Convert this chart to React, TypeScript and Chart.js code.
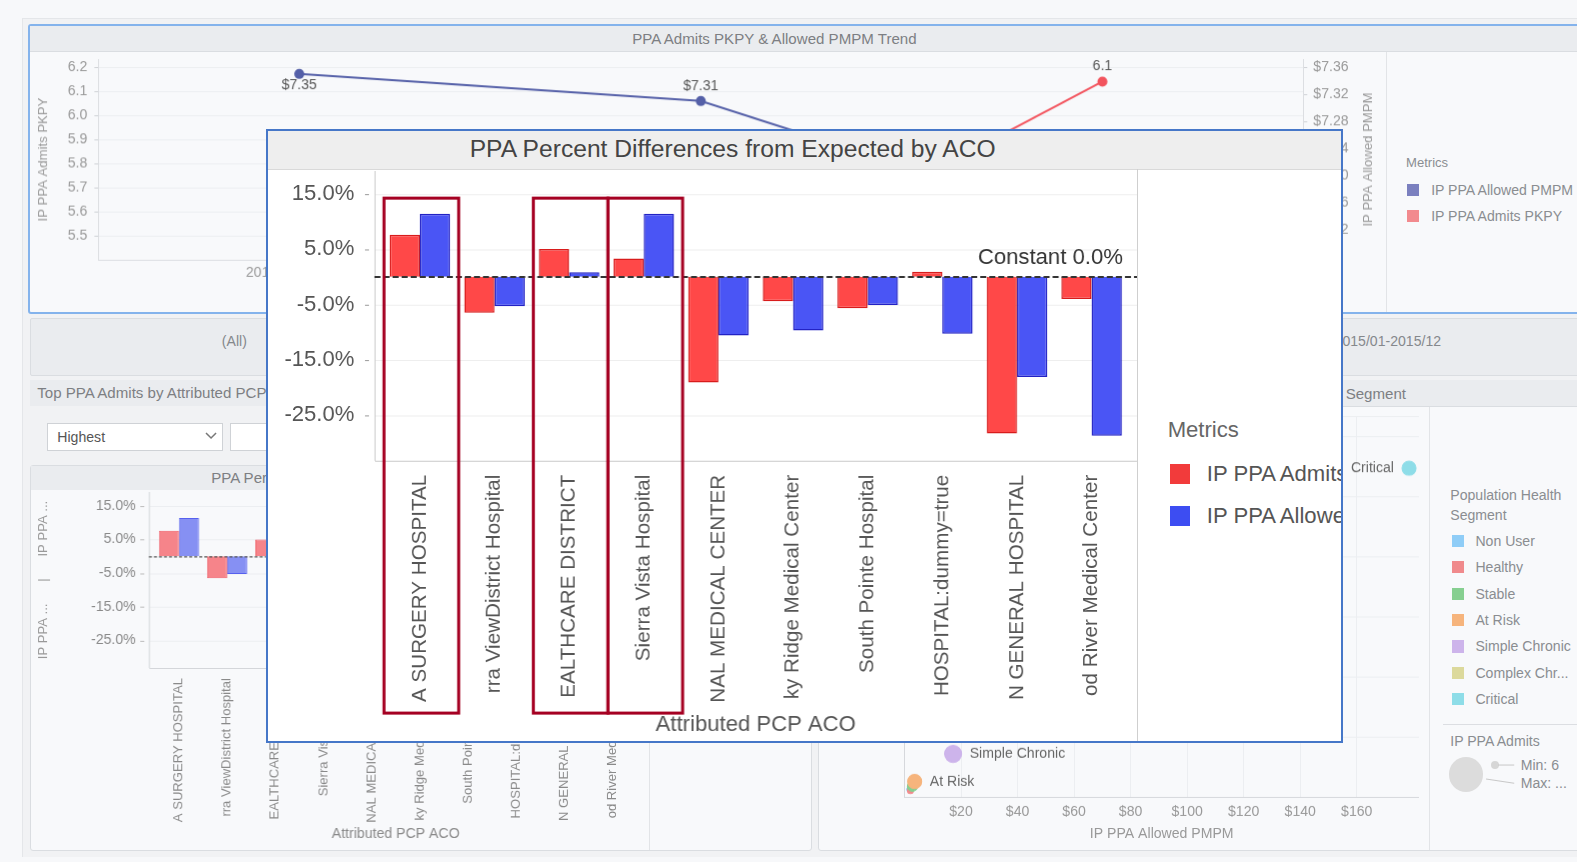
import React, { useEffect, useRef } from "react";
import { Chart, registerables } from "chart.js";

Chart.register(...registerables);
const FONT = "'Liberation Sans', Arial, Helvetica, sans-serif";
Chart.defaults.font.family = FONT;
const K = 1577 / 1568;

// ---------- PPA percent differences by ACO ----------
const acoLabels = [
  "A SURGERY HOSPITAL",
  "rra ViewDistrict Hospital",
  "EALTHCARE DISTRICT",
  "Sierra Vista Hospital",
  "NAL MEDICAL CENTER",
  "ky Ridge Medical Center",
  "South Pointe Hospital",
  "HOSPITAL:dummy=true",
  "N GENERAL HOSPITAL",
  "od River Medical Center",
];
const admitsPctDiff = [7.6, -6.5, 5.0, 3.3, -19.1, -4.4, -5.7, 0.9, -28.3, -4.0];
const allowedPctDiff = [11.4, -5.3, 0.8, 11.4, -10.6, -9.7, -5.1, -10.3, -18.1, -28.7];
const pctTicks = [15, 5, -5, -15, -25];
const pctMin = -33.2;
const pctMax = 19.1;
const highlightedAco = [0, 2, 3];
const constantLine = 0;

// ---------- trend ----------
const trendPeriods = ["2013/01-2013/12", "2014/01-2014/12", "2015/01-2015/12"];
const admitsPkpy = [5.6, 5.26, 6.14];
const allowedPmpm = [7.35, 7.31, 7.12];
const admitsTicks = [6.2, 6.1, 6.0, 5.9, 5.8, 5.7, 5.6, 5.5];
const pmpmTicks = [7.36, 7.32, 7.28, 7.24, 7.2, 7.16, 7.12];

// ---------- population health segments ----------
const segmentNames = ["Non User", "Healthy", "Stable", "At Risk", "Simple Chronic", "Complex Chronic", "Critical"];
const segmentLegendNames = ["Non User", "Healthy", "Stable", "At Risk", "Simple Chronic", "Complex Chr...", "Critical"];
const segmentColors = ["#8fcdf7", "#f08a8c", "#86cf90", "#f6b47c", "#cdb4eb", "#dcd99c", "#8edde8"];
const segmentAllowed = [1.5, 2.1, 2.8, 3.6, 17.2, 62, 178.5];
const segmentScore = [1.3, 1.1, 1.8, 2.6, 7.2, 30, 54.8];
const segmentAdmitsSize = [2, 3, 5, 7, 8.5, 8, 7];
const segmentLabelled = [false, false, false, true, true, true, true];
const scatterTicks = [20, 40, 60, 80, 100, 120, 140, 160];

const pctLabel = (v: number) => v.toFixed(1) + "%";

const noPadY = (w: number) => (s: any) => {
  s.width = w;
  s.paddingTop = 0;
  s.paddingBottom = 0;
};
const noPadX = (h: number) => (s: any) => {
  s.height = h;
  s.paddingLeft = 0;
  s.paddingRight = 0;
};

function pctDecor(cfg: any) {
  return {
    id: "pctDecor",
    beforeDatasetsDraw(chart: any) {
      const { ctx, chartArea: a, scales } = chart;
      const y = scales.y;
      const L = Math.round(a.left - cfg.ext) + 0.5;
      const R = a.right + cfg.ext;
      ctx.save();
      ctx.lineWidth = 1;
      pctTicks.forEach((v) => {
        const py = Math.round(y.getPixelForValue(v)) + 0.5;
        ctx.strokeStyle = cfg.gridColor;
        ctx.beginPath();
        ctx.moveTo(L, py);
        ctx.lineTo(R, py);
        ctx.stroke();
        ctx.strokeStyle = cfg.tickColor;
        ctx.beginPath();
        ctx.moveTo(L - cfg.tickOut, py);
        ctx.lineTo(L - cfg.tickOut + cfg.tickLen, py);
        ctx.stroke();
      });
      ctx.strokeStyle = cfg.axisColor;
      ctx.beginPath();
      ctx.moveTo(L, a.top);
      ctx.lineTo(L, a.bottom);
      const by = Math.round(a.bottom) + 0.5;
      ctx.moveTo(L, by);
      ctx.lineTo(R, by);
      ctx.stroke();
      ctx.restore();
    },
    afterDatasetsDraw(chart: any) {
      const { ctx, chartArea: a, scales } = chart;
      const y = scales.y;
      const x = scales.x;
      const L = a.left - cfg.ext;
      const R = a.right + cfg.ext;
      const y0 = Math.round(y.getPixelForValue(constantLine)) + 0.5;
      ctx.save();
      ctx.setLineDash(cfg.zeroDash);
      ctx.lineWidth = cfg.zeroWidth;
      ctx.strokeStyle = cfg.zeroColor;
      ctx.beginPath();
      ctx.moveTo(L, y0);
      ctx.lineTo(R, y0);
      ctx.stroke();
      ctx.setLineDash([]);
      if (cfg.constantFont) {
        ctx.font = cfg.constantFont;
        ctx.fillStyle = "#333";
        ctx.textAlign = "right";
        ctx.textBaseline = "middle";
        ctx.fillText("Constant " + pctLabel(constantLine), a.right - 6, y0 - 19);
      }
      if (cfg.boxes) {
        const w = x.getPixelForValue(1) - x.getPixelForValue(0);
        ctx.strokeStyle = "#a50022";
        ctx.lineWidth = 3;
        highlightedAco.forEach((i) => {
          const cx = x.getPixelForValue(i);
          const top = y.getPixelForValue(cfg.boxTop);
          ctx.strokeRect(cx - w / 2 + 1.5, top, w, a.bottom + cfg.boxBelow - top);
        });
      }
      ctx.restore();
    },
  };
}

function mainConfig(): any {
  return {
    type: "bar",
    data: {
      labels: acoLabels,
      datasets: [
        {
          label: "IP PPA Admits PKPY",
          data: admitsPctDiff,
          backgroundColor: "#ff4848",
          borderColor: "#d81c1c",
          borderWidth: 1.5,
          categoryPercentage: 0.81,
          barPercentage: 1,
        },
        {
          label: "IP PPA Allowed PMPM",
          data: allowedPctDiff,
          backgroundColor: "#4a55f5",
          borderColor: "#2222c4",
          borderWidth: 1.5,
          categoryPercentage: 0.81,
          barPercentage: 1,
        },
      ],
    },
    options: {
      responsive: false,
      animation: false,
      devicePixelRatio: K,
      layout: { padding: { top: 2, right: 8, left: 0, bottom: 0 } },
      plugins: { legend: { display: false }, tooltip: { enabled: false } },
      scales: {
        x: {
          grid: { display: false, drawTicks: false },
          border: { display: false },
          ticks: { minRotation: 90, maxRotation: 90, autoSkip: false, padding: 14, color: "#555", font: { size: 20.5 } },
          title: { display: true, text: "Attributed PCP ACO", color: "#555", font: { size: 22 }, padding: { top: 0, bottom: 2 } },
          afterFit: noPadX(278),
        },
        y: {
          min: pctMin,
          max: pctMax,
          afterBuildTicks: (s: any) => {
            s.ticks = pctTicks.map((v) => ({ value: v }));
          },
          grid: { display: false, drawTicks: false },
          border: { display: false },
          ticks: { padding: 28, color: "#555", font: { size: 22 }, callback: (v: any) => pctLabel(Number(v)) },
          afterFit: noPadY(114),
        },
      },
    },
    plugins: [
      pctDecor({
        ext: 8,
        tickOut: 10,
        tickLen: 4,
        gridColor: "#eeeeee",
        tickColor: "#999",
        axisColor: "#c9c9c9",
        zeroColor: "#333",
        zeroWidth: 2,
        zeroDash: [6, 3],
        constantFont: `22px ${FONT}`,
        boxes: true,
        boxTop: 14.2,
        boxBelow: 251,
      }),
    ],
  };
}

function smallConfig(): any {
  return {
    type: "bar",
    data: {
      labels: acoLabels,
      datasets: [
        {
          data: admitsPctDiff,
          backgroundColor: "#f6848a",
          borderColor: "#ef5a63",
          borderWidth: 1,
          categoryPercentage: 0.83,
          barPercentage: 1,
        },
        {
          data: allowedPctDiff,
          backgroundColor: "#8690f3",
          borderColor: "#5660ee",
          borderWidth: 1,
          categoryPercentage: 0.83,
          barPercentage: 1,
        },
      ],
    },
    options: {
      responsive: false,
      animation: false,
      devicePixelRatio: K,
      layout: { padding: { top: 2, right: 13, left: 0, bottom: 0 } },
      plugins: { legend: { display: false }, tooltip: { enabled: false } },
      scales: {
        x: {
          grid: { display: false, drawTicks: false },
          border: { display: false },
          ticks: { minRotation: 90, maxRotation: 90, autoSkip: false, padding: 10, color: "#8a8a8a", font: { size: 13 } },
          title: { display: true, text: "Attributed PCP ACO", color: "#8a8a8a", font: { size: 14 }, padding: { top: 0, bottom: 7 } },
          afterFit: noPadX(181),
        },
        y: {
          min: pctMin,
          max: pctMax,
          afterBuildTicks: (s: any) => {
            s.ticks = pctTicks.map((v) => ({ value: v }));
          },
          grid: { display: false, drawTicks: false },
          border: { display: false },
          ticks: { padding: 19, color: "#8a8a8a", font: { size: 14 }, callback: (v: any) => pctLabel(Number(v)) },
          title: {
            display: true,
            text: "IP PPA ...      |      IP PPA ...",
            color: "#999",
            font: { size: 13 },
            padding: { top: 6, bottom: 0 },
          },
          afterFit: noPadY(124),
        },
      },
    },
    plugins: [
      pctDecor({
        ext: 6,
        tickOut: 9,
        tickLen: 4,
        gridColor: "#eceef1",
        tickColor: "#bbb",
        axisColor: "#d4d6da",
        zeroColor: "#555",
        zeroWidth: 1.2,
        zeroDash: [3, 2],
      }),
    ],
  };
}

const trendDecor = {
  id: "trendDecor",
  afterDatasetsDraw(chart: any) {
    const { ctx, chartArea: a } = chart;
    ctx.save();
    ctx.font = `14px ${FONT}`;
    ctx.fillStyle = "#555";
    ctx.textAlign = "center";
    ctx.textBaseline = "middle";
    chart.data.datasets.forEach((ds: any, di: number) => {
      const meta = chart.getDatasetMeta(di);
      meta.data.forEach((pt: any, i: number) => {
        const v = ds.data[i];
        const below = di === 0 && i === 0;
        const txt = di === 0 ? "$" + v.toFixed(2) : v.toFixed(1);
        ctx.fillText(txt, pt.x, pt.y + (below ? 11 : -15));
      });
    });
    ctx.font = `13px ${FONT}`;
    ctx.fillStyle = "#9a9a9a";
    ctx.translate(chart.width - 18, (a.top + a.bottom) / 2);
    ctx.rotate(-Math.PI / 2);
    ctx.fillText("IP PPA Allowed PMPM", 0, 0);
    ctx.restore();
  },
};

function trendConfig(): any {
  return {
    type: "line",
    data: {
      labels: trendPeriods,
      datasets: [
        {
          label: "IP PPA Allowed PMPM",
          data: allowedPmpm,
          yAxisID: "y1",
          borderColor: "#5560a8",
          backgroundColor: "#5560a8",
          borderWidth: 2,
          pointRadius: 4,
          tension: 0,
        },
        {
          label: "IP PPA Admits PKPY",
          data: admitsPkpy,
          yAxisID: "y",
          borderColor: "#f2545e",
          backgroundColor: "#f2545e",
          borderWidth: 2,
          pointRadius: 4,
          tension: 0,
        },
      ],
    },
    options: {
      responsive: false,
      animation: false,
      devicePixelRatio: K,
      layout: { padding: { top: 5, right: 0, left: 0, bottom: 0 } },
      plugins: { legend: { display: false }, tooltip: { enabled: false } },
      scales: {
        x: {
          offset: true,
          grid: { display: false, drawTicks: false, offset: true },
          border: { display: true, color: "#dcdee2" },
          ticks: { padding: 4, color: "#999", font: { size: 14 } },
          afterFit: noPadX(52),
        },
        y: {
          position: "left",
          min: 5.4,
          max: 6.2333,
          afterBuildTicks: (s: any) => {
            s.ticks = admitsTicks.map((v) => ({ value: v }));
          },
          grid: { color: "#eceef1", tickLength: 4, tickColor: "#cfd2d6" },
          border: { display: true, color: "#dcdee2" },
          ticks: { padding: 7, color: "#999", font: { size: 14 }, callback: (v: any) => Number(v).toFixed(1) },
          title: { display: true, text: "IP PPA Admits PKPY", color: "#9a9a9a", font: { size: 13 }, padding: { top: 6, bottom: 0 } },
          afterFit: noPadY(68),
        },
        y1: {
          position: "right",
          min: 7.0756,
          max: 7.3719,
          afterBuildTicks: (s: any) => {
            s.ticks = pmpmTicks.map((v) => ({ value: v }));
          },
          grid: { drawOnChartArea: false, tickLength: 4, tickColor: "#cfd2d6" },
          border: { display: true, color: "#dcdee2" },
          ticks: { padding: 6, color: "#999", font: { size: 14 }, callback: (v: any) => "$" + Number(v).toFixed(2) },
          afterFit: noPadY(83),
        },
      },
    },
    plugins: [trendDecor],
  };
}

const segDecor = {
  id: "segDecor",
  afterDatasetsDraw(chart: any) {
    const { ctx, chartArea: a } = chart;
    const meta = chart.getDatasetMeta(0);
    ctx.save();
    ctx.font = `14px ${FONT}`;
    ctx.fillStyle = "#666";
    ctx.textBaseline = "middle";
    meta.data.forEach((pt: any, i: number) => {
      if (!segmentLabelled[i]) return;
      const r = segmentAdmitsSize[i];
      const toLeft = pt.x + r + 110 > a.right;
      ctx.textAlign = toLeft ? "right" : "left";
      ctx.fillText(segmentNames[i], toLeft ? pt.x - r - 8 : pt.x + r + 8, pt.y);
    });
    ctx.restore();
  },
};

function scatterConfig(): any {
  return {
    type: "bubble",
    data: {
      datasets: [
        {
          data: segmentAllowed.map((x, i) => ({ x, y: segmentScore[i], r: segmentAdmitsSize[i] })),
          backgroundColor: segmentColors,
          borderColor: segmentColors,
          borderWidth: 1,
        },
      ],
    },
    options: {
      responsive: false,
      animation: false,
      devicePixelRatio: K,
      layout: { padding: { top: 0, right: 6, left: 0, bottom: 0 } },
      plugins: { legend: { display: false }, tooltip: { enabled: false } },
      scales: {
        x: {
          type: "linear",
          min: 0,
          max: 182,
          afterBuildTicks: (s: any) => {
            s.ticks = scatterTicks.map((v) => ({ value: v }));
          },
          grid: { color: "#eceef1", drawTicks: false },
          border: { display: true, color: "#d6d8dc" },
          ticks: { padding: 6, color: "#999", font: { size: 14 }, callback: (v: any) => "$" + v },
          title: { display: true, text: "IP PPA Allowed PMPM", color: "#999", font: { size: 14 }, padding: { top: 0, bottom: 8 } },
          afterFit: noPadX(53),
        },
        y: {
          min: 0,
          max: 63.4,
          ticks: { display: false, stepSize: 10 },
          grid: { color: "#eceef1", drawTicks: false },
          border: { display: true, color: "#d6d8dc" },
          afterFit: noPadY(86),
        },
      },
    },
    plugins: [segDecor],
  };
}

const Txt = ({ x, y, s = 14, c = "#8a8d91", anchor = "left", children, style }: any) => (
  <div
    style={{
      position: "absolute",
      left: x,
      top: y,
      transform: `translate(${anchor === "center" ? "-50%" : anchor === "right" ? "-100%" : "0"}, -50%)`,
      fontSize: s,
      color: c,
      whiteSpace: "nowrap",
      lineHeight: 1.15,
      ...style,
    }}
  >
    {children}
  </div>
);

const Box = ({ x, y, w, h, style }: any) => (
  <div style={{ position: "absolute", left: x, top: y, width: w, height: h, boxSizing: "border-box", ...style }} />
);

export default function App() {
  const trendRef = useRef<HTMLCanvasElement>(null);
  const smallRef = useRef<HTMLCanvasElement>(null);
  const scatterRef = useRef<HTMLCanvasElement>(null);
  const mainRef = useRef<HTMLCanvasElement>(null);

  useEffect(() => {
    const charts = [
      new Chart(trendRef.current as any, trendConfig()),
      new Chart(smallRef.current as any, smallConfig()),
      new Chart(scatterRef.current as any, scatterConfig()),
      new Chart(mainRef.current as any, mainConfig()),
    ];
    return () => charts.forEach((c) => c.destroy());
  }, []);

  const cv = (ref: any, x: number, y: number, w: number, h: number) => (
    <canvas ref={ref} width={w} height={h} style={{ position: "absolute", left: x, top: y, width: w, height: h }} />
  );

  const panelBg = "#f8f9fb";
  const barBg = "#eaecef";
  const line = "#dadde1";

  return (
    <div
      style={{
        position: "fixed",
        left: 0,
        top: 0,
        width: 1568,
        height: 857,
        zoom: K,
        background: "#f7f8fa",
        overflow: "hidden",
        fontFamily: FONT,
      } as any}
    >
      <Box x={22} y={18} w={1560} h={834} style={{ background: "#f1f2f4", borderTop: "1px solid #e4e6e9", borderLeft: "1px solid #e4e6e9" }} />

      {/* top trend panel */}
      <Box x={28} y={24} w={1560} h={288} style={{ background: panelBg, border: "2px solid #84b3ec", borderRadius: 3 }} />
      <Box x={30} y={26} w={1556} h={26} style={{ background: barBg, borderBottom: `1px solid ${line}` }} />
      <Txt x={770} y={39} s={15} c="#7d7f83" anchor="center">PPA Admits PKPY &amp; Allowed PMPM Trend</Txt>
      {cv(trendRef, 30, 53, 1348, 257)}
      <Box x={1378} y={52} w={1} h={258} style={{ background: "#e2e4e7" }} />
      <Txt x={1398} y={162} s={13} c="#8a8d91">Metrics</Txt>
      <Box x={1399} y={183} w={12} h={12} style={{ background: "#7b80bf" }} />
      <Txt x={1423} y={189} s={14} c="#8a8d91">IP PPA Allowed PMPM</Txt>
      <Box x={1399} y={209} w={12} h={12} style={{ background: "#f28a8e" }} />
      <Txt x={1423} y={215} s={14} c="#8a8d91">IP PPA Admits PKPY</Txt>

      {/* filter bar */}
      <Box x={30} y={316} w={1552} h={58} style={{ background: barBg, border: `1px solid ${line}`, borderRadius: 2 }} />
      <Txt x={233} y={339} s={14} c="#85888c" anchor="center">(All)</Txt>
      <Txt x={1327} y={339} s={14} c="#85888c">2015/01-2015/12</Txt>

      {/* section titles */}
      <Box x={30} y={378} w={777} h={26} style={{ background: barBg }} />
      <Txt x={37} y={391} s={15} c="#7d7f83">Top PPA Admits by Attributed PCP ACO</Txt>
      <Box x={813} y={378} w={770} h={26} style={{ background: barBg }} />
      <Txt x={1398} y={392} s={15} c="#7d7f83" anchor="right">IP PPA Admits by Population Health Segment</Txt>

      {/* dropdowns */}
      <Box x={47} y={421} w={175} h={27} style={{ background: "#fff", border: "1px solid #cfd2d6" }} />
      <Txt x={57} y={435} s={14} c="#555">Highest</Txt>
      <svg style={{ position: "absolute", left: 204, top: 430 }} width={12} height={8}>
        <polyline points="1,1 6,6 11,1" fill="none" stroke="#777" strokeWidth={1.5} />
      </svg>
      <Box x={229} y={421} w={200} h={27} style={{ background: "#fff", border: "1px solid #cfd2d6" }} />

      {/* small bar chart panel */}
      <Box x={30} y={462} w={777} h={384} style={{ background: panelBg, border: `1px solid ${line}`, borderRadius: 3 }} />
      <Box x={31} y={463} w={775} h={24} style={{ background: barBg }} />
      <Txt x={210} y={475} s={15} c="#7d7f83">PPA Percent Differences from Expected by ACO</Txt>
      {cv(smallRef, 30, 487, 615, 358)}
      <Box x={645} y={487} w={1} h={358} style={{ background: "#e2e4e7" }} />

      {/* scatter panel */}
      <Box x={813} y={404} w={770} h={442} style={{ background: panelBg, border: `1px solid ${line}`, borderRadius: 3 }} />
      {cv(scatterRef, 813, 405, 607, 440)}
      <Box x={1421} y={405} w={1} h={440} style={{ background: "#e2e4e7" }} />
      <Txt x={1442} y={492} s={14} c="#8a8d91">Population Health</Txt>
      <Txt x={1442} y={512} s={14} c="#8a8d91">Segment</Txt>
      {segmentLegendNames.map((n, i) => (
        <React.Fragment key={n}>
          <Box x={1444} y={532 + i * 26.2} w={12} h={12} style={{ background: segmentColors[i] }} />
          <Txt x={1467} y={538 + i * 26.2} s={14} c="#8a8d91">{n}</Txt>
        </React.Fragment>
      ))}
      <Box x={1435} y={720} w={150} h={1} style={{ background: "#dcdee2" }} />
      <Txt x={1442} y={737} s={14} c="#8a8d91">IP PPA Admits</Txt>
      <Box x={1441} y={753} w={34} h={34} style={{ background: "#dcdcdc", borderRadius: "50%" }} />
      <Box x={1482} y={757} w={8} h={8} style={{ background: "#d6d6d6", borderRadius: "50%" }} />
      <svg style={{ position: "absolute", left: 1470, top: 755 }} width={40} height={30}>
        <line x1={20} y1={6} x2={36} y2={6} stroke="#c8c8c8" strokeWidth={1} />
        <line x1={8} y1={20} x2={36} y2={24} stroke="#c8c8c8" strokeWidth={1} />
      </svg>
      <Txt x={1512} y={761} s={14} c="#8a8d91">Min: 6</Txt>
      <Txt x={1512} y={779} s={14} c="#8a8d91">Max: ...</Txt>

      {/* popup */}
      <div
        style={{
          position: "absolute",
          left: 264,
          top: 128,
          width: 1071,
          height: 611,
          boxSizing: "border-box",
          border: "2px solid #4677c8",
          background: "#fff",
          overflow: "hidden",
        }}
      >
        <div style={{ position: "absolute", left: 0, top: 0, width: 1067, height: 38, background: "#eeeeee", borderBottom: "1px solid #d9d9d9" }} />
        <Txt x={201} y={18} s={24.5} c="#444">PPA Percent Differences from Expected by ACO</Txt>
        <canvas ref={mainRef} width={865} height={568} style={{ position: "absolute", left: 0, top: 38, width: 865, height: 568 }} />
        <div style={{ position: "absolute", left: 865, top: 38, width: 1, height: 570, background: "#cfcfcf" }} />
        <Txt x={895} y={298} s={22} c="#666">Metrics</Txt>
        <Box x={897} y={331} w={20} h={20} style={{ background: "#f23b3b" }} />
        <Txt x={934} y={341} s={22} c="#555">IP PPA Admits PKPY</Txt>
        <Box x={897} y={373} w={20} h={20} style={{ background: "#3d4df2" }} />
        <Txt x={934} y={383} s={22} c="#555">IP PPA Allowed PMPM</Txt>
      </div>
    </div>
  );
}
